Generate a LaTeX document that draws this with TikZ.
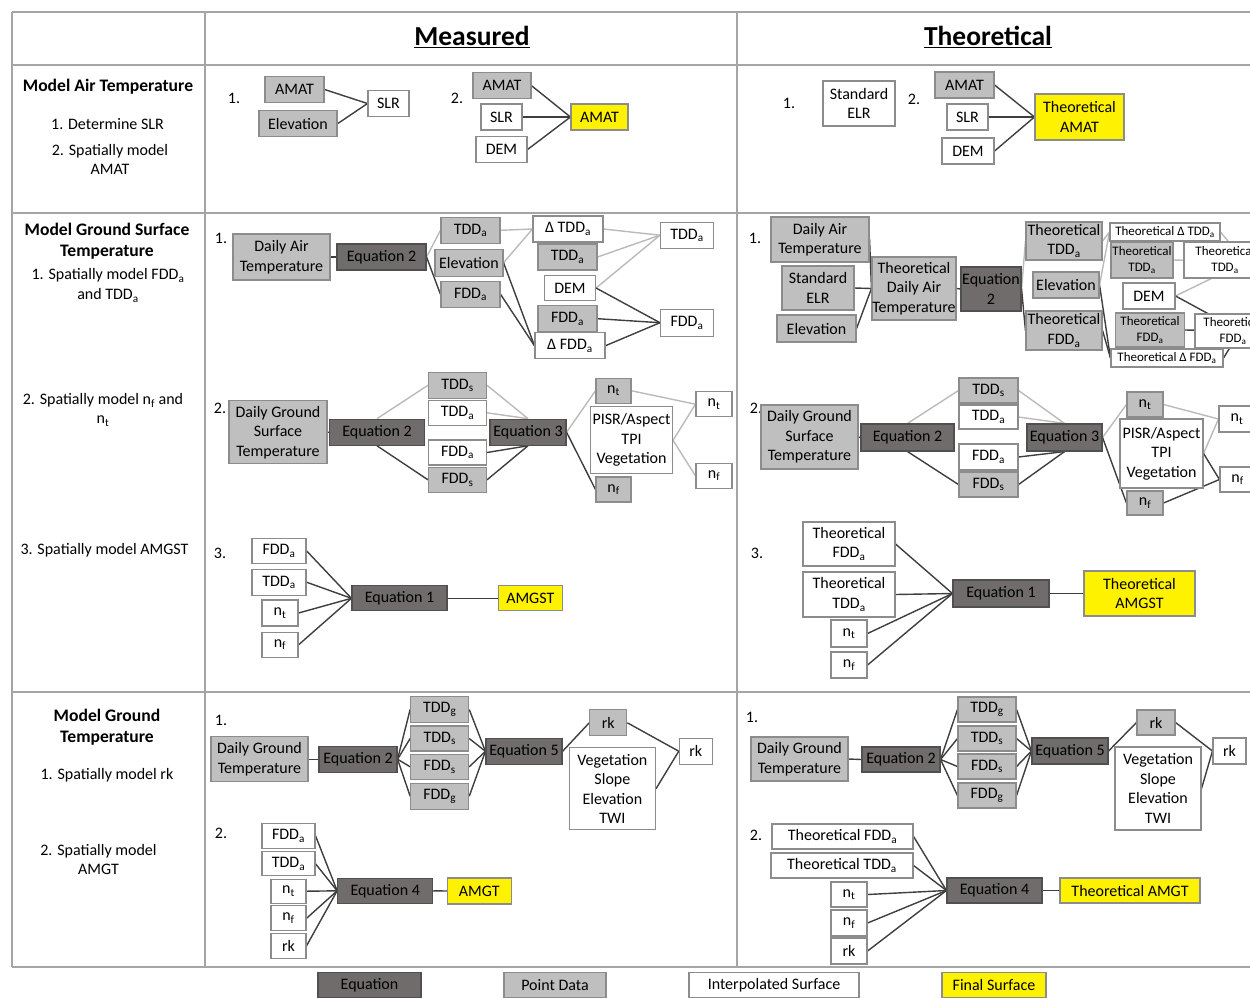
\documentclass[tikz,border=0pt]{standalone}
\usepackage{fontspec}
\setmainfont{Carlito}
\usetikzlibrary{calc,positioning}
\definecolor{eqfill}{RGB}{112,108,108}
\definecolor{eqline}{RGB}{80,80,80}
\definecolor{ptfill}{RGB}{191,191,191}
\definecolor{boxline}{RGB}{140,140,140}
\definecolor{darkln}{RGB}{62,62,62}
\definecolor{lightln}{RGB}{186,186,186}
\definecolor{gridln}{RGB}{165,165,165}
\pgfdeclarelayer{bg}
\pgfsetlayers{bg,main}
\newcommand{\sbs}[1]{\textsubscript{#1}}
\newcommand{\boxfnt}{\fontsize{16}{19.5}\selectfont}
\newcommand{\smallfnt}{\fontsize{13}{15.5}\selectfont}
\newcommand{\headfnt}{\fontsize{17.6}{21}\selectfont\bfseries}
\newcommand{\titlefnt}{\fontsize{27.5}{32}\selectfont\bfseries}

\begin{document}
\begin{tikzpicture}[x=1pt,y=-1pt,
 nbox/.style={draw=boxline,line width=1.1pt,inner sep=1pt,align=center,font=\boxfnt},
 eqn/.style={nbox,fill=eqfill,draw=eqline},
 pdata/.style={nbox,fill=ptfill},
 isurf/.style={nbox,fill=white},
 fsurf/.style={nbox,fill=yellow},
 sz/.style 2 args={minimum width=#1pt,minimum height=#2pt},
 dk/.style={draw=darkln,line width=1.4pt},
 lt/.style={draw=lightln,line width=1.4pt},
 lbl/.style={font=\boxfnt,align=center,inner sep=0pt},
 hd/.style={font=\headfnt,align=center,inner sep=0pt}]
\useasboundingbox (0,0) rectangle (1250,997);

% headers and left column
\node[font=\titlefnt,inner sep=0pt] (hMeas) at (472,37) {\underline{Measured}};
\node[font=\titlefnt,inner sep=0pt] (hTheo) at (988,37) {\underline{Theoretical}};
\node[hd] (cAir) at (108,87) {Model Air Temperature};
\node[lbl] (cAir1) at (107.5,124) {1. Determine SLR};
\node[lbl] (cAir2) at (110,159.5) {2. Spatially model\\AMAT};
\node[hd] (cSurf) at (107,241.5) {Model Ground Surface\\Temperature};
\node[lbl] (cSurf1) at (108,285.5) {1. Spatially model FDD\sbs{a}\\and TDD\sbs{a}};
\node[lbl] (cSurf2) at (103,410) {2. Spatially model n\sbs{f} and\\n\sbs{t}};
\node[lbl] (cSurf3) at (104.5,550) {3. Spatially model AMGST};
\node[hd] (cGrnd) at (107,727.5) {Model Ground\\Temperature};
\node[lbl] (cGrnd1) at (107,775) {1. Spatially model rk};
\node[lbl] (cGrnd2) at (98.5,859.5) {2. Spatially model\\AMGT};

% model air temperature
\node[lbl] (mS11) at (234,98) {1.};
\node[pdata,sz={59}{26}] (mAmat1) at (294.5,89.5) {AMAT};
\node[pdata,sz={78}{26}] (mElev1) at (298,123.7) {Elevation};
\node[isurf,sz={41}{26}] (mSlr1) at (388.5,103.5) {SLR};
\node[lbl] (mS12) at (457,98) {2.};
\node[pdata,sz={58}{26}] (mAmat2) at (502,85.7) {AMAT};
\node[isurf,sz={41}{26}] (mSlr2) at (501.5,117) {SLR};
\node[isurf,sz={51}{26}] (mDem2) at (501.5,149.5) {DEM};
\node[fsurf,sz={57}{26}] (mAmatF) at (599.5,117) {AMAT};

\node[lbl] (tS11) at (789,103) {1.};
\node[isurf,sz={72}{45}] (tElr1) at (859,103.5) {Standard\\ELR};
\node[lbl] (tS12) at (914,99) {2.};
\node[pdata,sz={59}{26}] (tAmat2) at (964.5,85) {AMAT};
\node[isurf,sz={41}{26}] (tSlr2) at (967.5,117) {SLR};
\node[isurf,sz={52}{26}] (tDem2) at (968,151) {DEM};
\node[fsurf,sz={89}{46}] (tAmatF) at (1079.5,117) {Theoretical\\AMAT};

% ground surface temperature, step 1
\node[lbl] (mS21) at (221,238) {1.};
\node[pdata,sz={97}{46}] (mDat) at (281.5,257) {Daily Air\\Temperature};
\node[eqn,sz={89}{26}] (mEq2a) at (381.5,257) {Equation 2};
\node[pdata,sz={59}{26}] (mTdd) at (470.5,230.3) {TDD\sbs{a}};
\node[pdata,sz={68}{27}] (mElev) at (469,262.7) {Elevation};
\node[pdata,sz={59}{26}] (mFdd) at (470.5,294.3) {FDD\sbs{a}};
\node[isurf,sz={70}{26}] (mDTdd) at (568,229) {Δ TDD\sbs{a}};
\node[pdata,sz={59}{26}] (mTdd2) at (567.5,257) {TDD\sbs{a}};
\node[isurf,sz={51}{25}] (mDem) at (570,288) {DEM};
\node[pdata,sz={59}{26}] (mFdd2) at (567.5,318.7) {FDD\sbs{a}};
\node[isurf,sz={70}{26}] (mDFdd) at (570,345.7) {Δ FDD\sbs{a}};
\node[isurf,sz={53}{26}] (mTddR) at (687,235.2) {TDD\sbs{a}};
\node[isurf,sz={53}{27}] (mFddR) at (687,322.7) {FDD\sbs{a}};

\node[lbl] (tS21) at (755,238) {1.};
\node[pdata,sz={98}{45}] (tDat) at (820,239.5) {Daily Air\\Temperature};
\node[pdata,sz={72}{44}] (tElr) at (818,288) {Standard\\ELR};
\node[pdata,sz={79}{27}] (tElev0) at (816.5,328.5) {Elevation};
\node[pdata,sz={84}{63},inner xsep=0pt] (tTdat) at (914,288.5) {Theoretical\\Daily Air\\Temperature};
\node[eqn,sz={60}{44}] (tEq2a) at (991,289) {Equation\\2};
\node[pdata,sz={76}{38}] (tTdd) at (1064,241) {Theoretical\\TDD\sbs{a}};
\node[pdata,sz={66}{26}] (tElev) at (1066,285) {Elevation};
\node[pdata,sz={76}{39}] (tFdd) at (1064,330.5) {Theoretical\\FDD\sbs{a}};
\node[isurf,sz={110}{18},font=\smallfnt] (tDTdd) at (1165,232) {Theoretical Δ TDD\sbs{a}};
\node[pdata,sz={62}{36},font=\smallfnt] (tTdd2) at (1142,260) {Theoretical\\TDD\sbs{a}};
\node[isurf,sz={82}{36},font=\smallfnt] (tTddR) at (1225,260) {Theoretical\\TDD\sbs{a}};
\node[isurf,sz={52}{26}] (tDem) at (1149,296) {DEM};
\node[pdata,sz={69}{34},font=\smallfnt] (tFdd2) at (1150,330) {Theoretical\\FDD\sbs{a}};
\node[isurf,sz={76}{34},font=\smallfnt] (tFddR) at (1233,331) {Theoretical\\FDD\sbs{a}};
\node[isurf,sz={112}{18},font=\smallfnt] (tDFdd) at (1167,358) {Theoretical Δ FDD\sbs{a}};
\coordinate (tTddC) at (1245,262);
\coordinate (tFddC) at (1240,331);

% ground surface temperature, step 2
\node[lbl] (mS22) at (220,408) {2.};
\node[pdata,sz={98}{63}] (mDgst) at (278,432.3) {Daily Ground\\Surface\\Temperature};
\node[eqn,sz={95}{26}] (mEq2b) at (377,432.2) {Equation 2};
\node[pdata,sz={58}{26}] (mTdds) at (457.5,385.3) {TDD\sbs{s}};
\node[isurf,sz={58}{25}] (mTdda) at (457.5,412.8) {TDD\sbs{a}};
\node[isurf,sz={58}{25}] (mFdda) at (457.5,452.5) {FDD\sbs{a}};
\node[pdata,sz={58}{25}] (mFdds) at (457.5,479.8) {FDD\sbs{s}};
\node[eqn,sz={76}{26}] (mEq3) at (528,432.2) {Equation 3};
\node[pdata,sz={35}{25}] (mNt) at (613.5,390.8) {n\sbs{t}};
\node[isurf,sz={82}{67}] (mPisr) at (631.5,440.3) {PISR/Aspect\\TPI\\Vegetation};
\node[pdata,sz={35}{25}] (mNf) at (613.5,489.5) {n\sbs{f}};
\node[isurf,sz={36}{25}] (mNtR) at (714,404.2) {n\sbs{t}};
\node[isurf,sz={36}{25}] (mNfR) at (714,475.8) {n\sbs{f}};

\node[lbl] (tS22) at (756,408) {2.};
\node[pdata,sz={97}{64}] (tDgst) at (809.5,437) {Daily Ground\\Surface\\Temperature};
\node[eqn,sz={93}{27}] (tEq2b) at (907.5,437.5) {Equation 2};
\node[pdata,sz={59}{25}] (tTdds) at (988.5,390.5) {TDD\sbs{s}};
\node[isurf,sz={59}{24}] (tTdda) at (988.5,417) {TDD\sbs{a}};
\node[isurf,sz={59}{26}] (tFdda) at (988.5,457) {FDD\sbs{a}};
\node[pdata,sz={59}{25}] (tFdds) at (988.5,484.5) {FDD\sbs{s}};
\node[eqn,sz={75}{27}] (tEq3) at (1064.5,437.5) {Equation 3};
\node[pdata,sz={36}{25}] (tNt) at (1145,404.5) {n\sbs{t}};
\node[isurf,sz={83}{69}] (tPisr) at (1161.5,453.5) {PISR/Aspect\\TPI\\Vegetation};
\node[pdata,sz={36}{24}] (tNf) at (1145,503) {n\sbs{f}};
\node[isurf,sz={36}{26}] (tNtR) at (1237,419) {n\sbs{t}};
\node[isurf,sz={35}{25}] (tNfR) at (1237.5,479.5) {n\sbs{f}};

% ground surface temperature, step 3
\node[lbl] (mS23) at (220,553) {3.};
\node[isurf,sz={54}{25}] (mFdd3) at (279,550.8) {FDD\sbs{a}};
\node[isurf,sz={54}{26}] (mTdd3) at (279,582.2) {TDD\sbs{a}};
\node[isurf,sz={36}{26}] (mNt3) at (280,613) {n\sbs{t}};
\node[isurf,sz={36}{25}] (mNf3) at (280,644.8) {n\sbs{f}};
\node[eqn,sz={95}{25}] (mEq1) at (399.5,598.3) {Equation 1};
\node[fsurf,sz={64}{25}] (mAmgst) at (530.3,598.3) {AMGST};

\node[lbl] (tS23) at (757,553) {3.};
\node[isurf,sz={92}{44}] (tFdd3) at (849,544) {Theoretical\\FDD\sbs{a}};
\node[isurf,sz={92}{45}] (tTdd3) at (849,594.5) {Theoretical\\TDD\sbs{a}};
\node[isurf,sz={36}{27}] (tNt3) at (849,633.5) {n\sbs{t}};
\node[isurf,sz={36}{26}] (tNf3) at (849,665) {n\sbs{f}};
\node[eqn,sz={96}{27}] (tEq1) at (1001,593.5) {Equation 1};
\node[fsurf,sz={111}{45}] (tAmgst) at (1139.5,593.5) {Theoretical\\AMGST};

% ground temperature
\node[lbl] (mS31) at (221,720.7) {1.};
\node[pdata,sz={97}{45}] (mDgt) at (259.5,759.2) {Daily Ground\\Temperature};
\node[eqn,sz={78}{26}] (mEq2c) at (358,759.2) {Equation 2};
\node[pdata,sz={58}{26}] (mTddg) at (439.7,709.5) {TDD\sbs{g}};
\node[pdata,sz={58}{25}] (mTdds4) at (439.7,738.5) {TDD\sbs{s}};
\node[pdata,sz={58}{25}] (mFdds4) at (439.7,766.8) {FDD\sbs{s}};
\node[pdata,sz={58}{26}] (mFddg) at (439.7,796.2) {FDD\sbs{g}};
\node[eqn,sz={76}{26}] (mEq5) at (524,751.3) {Equation 5};
\node[pdata,sz={37}{26}] (mRk) at (608.3,722.8) {rk};
\node[isurf,sz={86}{82}] (mVset) at (612.4,788.8) {Vegetation\\Slope\\Elevation\\TWI};
\node[isurf,sz={33}{26}] (mRkR) at (695.8,751.2) {rk};
\node[lbl] (mS32) at (221,833.3) {2.};
\node[isurf,sz={53}{25}] (mFdd5) at (288.5,835.8) {FDD\sbs{a}};
\node[isurf,sz={53}{24}] (mTdd5) at (288.5,863.8) {TDD\sbs{a}};
\node[isurf,sz={35}{24}] (mNt5) at (288.5,891.2) {n\sbs{t}};
\node[isurf,sz={35}{25}] (mNf5) at (288.5,918.3) {n\sbs{f}};
\node[isurf,sz={35}{25}] (mRk5) at (288.5,945.8) {rk};
\node[eqn,sz={95}{25}] (mEq4) at (385.2,890.8) {Equation 4};
\node[fsurf,sz={64}{26}] (mAmgt) at (479.3,891) {AMGT};

\node[lbl] (tS31) at (752,717) {1.};
\node[pdata,sz={97}{44}] (tDgt) at (799.5,759) {Daily Ground\\Temperature};
\node[eqn,sz={78}{25}] (tEq2c) at (901,759.5) {Equation 2};
\node[pdata,sz={58}{25}] (tTddg) at (987,709.5) {TDD\sbs{g}};
\node[pdata,sz={58}{25}] (tTdds4) at (987,738.5) {TDD\sbs{s}};
\node[pdata,sz={58}{25}] (tFdds4) at (987,766.5) {FDD\sbs{s}};
\node[pdata,sz={58}{25}] (tFddg) at (987,795.5) {FDD\sbs{g}};
\node[eqn,sz={76}{26}] (tEq5) at (1070,751) {Equation 5};
\node[pdata,sz={38}{25}] (tRk) at (1156,722.5) {rk};
\node[isurf,sz={86}{83}] (tVset) at (1158,788.5) {Vegetation\\Slope\\Elevation\\TWI};
\node[isurf,sz={33}{26}] (tRkR) at (1229.5,751) {rk};
\node[lbl] (tS32) at (756,835) {2.};
\node[isurf,sz={141}{25}] (tFdd5) at (842.5,836.5) {Theoretical FDD\sbs{a}};
\node[isurf,sz={142}{25}] (tTdd5) at (842,865.5) {Theoretical TDD\sbs{a}};
\node[isurf,sz={36}{25}] (tNt5) at (849,894.5) {n\sbs{t}};
\node[isurf,sz={36}{26}] (tNf5) at (849,923) {n\sbs{f}};
\node[isurf,sz={36}{26}] (tRk5) at (849,951) {rk};
\node[eqn,sz={95}{25}] (tEq4) at (994.5,890.5) {Equation 4};
\node[fsurf,sz={140}{25}] (tAmgt) at (1130,890.5) {Theoretical AMGT};

% legend
\node[eqn,sz={103}{25}] (kEq) at (369.5,985) {Equation};
\node[pdata,sz={102}{25}] (kPt) at (555,985) {Point Data};
\node[isurf,sz={170}{25}] (kIs) at (774,985) {Interpolated Surface};
\node[fsurf,sz={104}{25}] (kFs) at (994,985) {Final Surface};

\begin{pgfonlayer}{bg}
\foreach \yy in {12,65,213,692,967}{\draw[gridln,line width=1.4pt] (12,\yy)--(1250,\yy);}
\foreach \xx in {12,205,737}{\draw[gridln,line width=1.4pt] (\xx,12)--(\xx,967);}

\foreach \s in {mAmat1,mElev1}{\draw[dk] (\s.east)--(mSlr1.west);}
\foreach \p in {m,t}{
 \foreach \s in {Amat2,Slr2,Dem2}{\draw[dk] (\p\s.east)--(\p AmatF.west);}
}

\draw[dk] (mDat.east)--(mEq2a.west);
\foreach \s in {tDat,tElr,tElev0}{\draw[dk] (\s.east)--(tTdat.west);}
\draw[dk] (tTdat.east)--(tEq2a.west);
\foreach \p in {m,t}{
 \draw[lt] (\p Eq2a.east)--(\p Tdd.west);
 \draw[dk] (\p Eq2a.east)--(\p Fdd.west);
 \draw[lt] (\p Tdd.east)--(\p DTdd.west);
 \draw[lt] (\p Elev.east)--(\p DTdd.west);
 \draw[dk] (\p Elev.east)--(\p DFdd.west);
 \draw[dk] (\p Fdd.east)--(\p DFdd.west);
}
\foreach \s in {mDTdd,mTdd2,mDem}{\draw[lt] (\s.east)--(mTddR.west);}
\foreach \s in {mDem,mFdd2,mDFdd}{\draw[dk] (\s.east)--(mFddR.west);}
\foreach \s in {tDTdd,tTdd2,tDem}{\draw[lt] (\s.east)--(tTddC);}
\foreach \s in {tDem,tFdd2,tDFdd}{\draw[dk] (\s.east)--(tFddC);}

\foreach \p in {m,t}{
 \draw[dk] (\p Dgst.east)--(\p Eq2b.west);
 \draw[lt] (\p Eq2b.north)--(\p Tdds.west);
 \draw[dk] (\p Eq2b.south)--(\p Fdds.west);
 \foreach \s in {Tdds,Tdda}{\draw[lt] (\p\s.east)--(\p Eq3.north);}
 \foreach \s in {Fdda,Fdds}{\draw[dk] (\p\s.east)--(\p Eq3.south);}
 \draw[lt] (\p Eq3.east)--(\p Nt.west);
 \draw[dk] (\p Eq3.east)--(\p Nf.west);
 \draw[lt] (\p Nt.east)--(\p NtR.west);
 \draw[lt] (\p Pisr.east)--(\p NtR.west);
}
\draw[lt] (mPisr.east)--(mNfR.west);
\draw[dk] (tPisr.east)--(tNfR.west);
\draw[dk] (tNf.east)--(tNfR.west);

\foreach \p in {m,t}{
 \foreach \s in {Fdd3,Tdd3,Nt3,Nf3}{\draw[dk] (\p\s.east)--(\p Eq1.west);}
 \draw[dk] (\p Eq1.east)--(\p Amgst.west);
 \draw[dk] (\p Dgt.east)--(\p Eq2c.west);
 \foreach \s in {Tddg,Tdds4,Fdds4,Fddg}{
  \draw[dk] (\p Eq2c.east)--(\p\s.west);
  \draw[dk] (\p\s.east)--(\p Eq5.west);
 }
 \draw[dk] (\p Eq5.east)--(\p Rk.west);
 \draw[dk] (\p Rk.east)--(\p RkR.west);
 \draw[dk] (\p Vset.east)--(\p RkR.west);
 \foreach \s in {Fdd5,Tdd5,Nt5,Nf5,Rk5}{\draw[dk] (\p\s.east)--(\p Eq4.west);}
 \draw[dk] (\p Eq4.east)--(\p Amgt.west);
}
\end{pgfonlayer}
\end{tikzpicture}
\end{document}
